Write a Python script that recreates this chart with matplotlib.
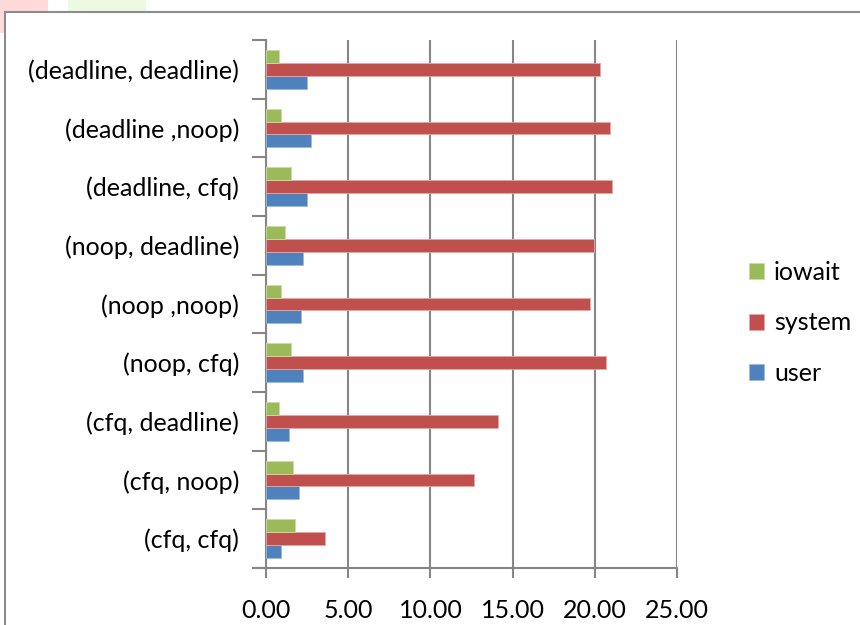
import matplotlib
matplotlib.use("Agg")
import matplotlib.pyplot as plt
from matplotlib.patches import Rectangle
import numpy as np

plt.rcParams['font.family'] = ['Lato', 'DejaVu Sans']

categories = ["(cfq, cfq)", "(cfq, noop)", "(cfq, deadline)",
              "(noop, cfq)", "(noop ,noop)", "(noop, deadline)",
              "(deadline, cfq)", "(deadline ,noop)", "(deadline, deadline)"]
user = [0.89, 1.99, 1.38, 2.23, 2.11, 2.23, 2.48, 2.72, 2.48]
system = [3.57, 12.68, 14.14, 20.69, 19.72, 19.96, 21.06, 20.94, 20.33]
iowait = [1.74, 1.62, 0.79, 1.50, 0.89, 1.14, 1.50, 0.89, 0.79]
x_ticks = [0, 5, 10, 15, 20, 25]
x_labels = ["0.00", "5.00", "10.00", "15.00", "20.00", "25.00"]

BLUE = "#4F81BD"
RED = "#C0504D"
GREEN = "#9BBB59"
GRID = "#868686"
FS = 18

W, H = 860, 625
fig = plt.figure(figsize=(W / 100, H / 100), dpi=100)

# faint coloured patches along the top edge
fig.patches.append(Rectangle((0, 1 - 12 / H), 48 / W, 12 / H, transform=fig.transFigure,
                             facecolor="#FFDADA", edgecolor="none", zorder=0))
fig.patches.append(Rectangle((0, 1 - 33 / H), 5 / W, 21 / H, transform=fig.transFigure,
                             facecolor="#FFDADA", edgecolor="none", zorder=0))
fig.patches.append(Rectangle((68 / W, 1 - 11 / H), 78 / W, 11 / H, transform=fig.transFigure,
                             facecolor="#EEF9E2", edgecolor="none", zorder=0))
# chart frame
fig.patches.append(Rectangle((5 / W, -0.1), 1.2, 1 - 12 / H + 0.1, transform=fig.transFigure,
                             facecolor="none", edgecolor="#8C8C8C", linewidth=1.5, zorder=1))

ax = fig.add_axes([266 / W, 1 - 568 / H, (677 - 266) / W, (568 - 40) / H])

y = np.arange(len(categories))
h = 0.218
ax.barh(y - h, user, height=h, color=BLUE, edgecolor="#9DB8DA", linewidth=0.6, label="user", zorder=3)
ax.barh(y, system, height=h, color=RED, edgecolor="#E3A9A8", linewidth=0.6, label="system", zorder=3)
ax.barh(y + h, iowait, height=h, color=GREEN, edgecolor="#C9DBA9", linewidth=0.6, label="iowait", zorder=3)

ax.set_xlim(0, 25)
ax.set_ylim(-0.5, len(categories) - 0.5)
ax.set_xticks(x_ticks)
ax.set_xticklabels(x_labels, fontsize=FS)
ax.set_yticks(y)
ax.set_yticklabels(categories, fontsize=FS)
ax.tick_params(axis="y", length=0, pad=19.5)
ax.tick_params(axis="x", length=7, width=1.5, color=GRID, pad=15)

# category boundary ticks on the y axis
ax.set_yticks(np.arange(-0.5, len(categories), 1.0), minor=True)
ax.tick_params(axis="y", which="minor", length=10, width=1.5, color=GRID)

ax.grid(axis="x", color=GRID, linewidth=1.5, zorder=0)
for side in ("top", "right"):
    ax.spines[side].set_visible(False)
for side in ("left", "bottom"):
    ax.spines[side].set_color(GRID)
    ax.spines[side].set_linewidth(1.5)
ax.spines["bottom"].set_bounds(-0.6, 25)
ax.spines["bottom"].set_zorder(4)
ax.set_axisbelow(True)

handles, labels = ax.get_legend_handles_labels()
leg = fig.legend(handles[::-1], labels[::-1], loc="center left",
                 bbox_to_anchor=(749 / W, 1 - 323 / H), frameon=False, fontsize=FS,
                 handlelength=0.6, handleheight=0.6, handletextpad=0.4, labelspacing=1.1,
                 borderaxespad=0, borderpad=0)

fig.savefig("out.png", dpi=100)
